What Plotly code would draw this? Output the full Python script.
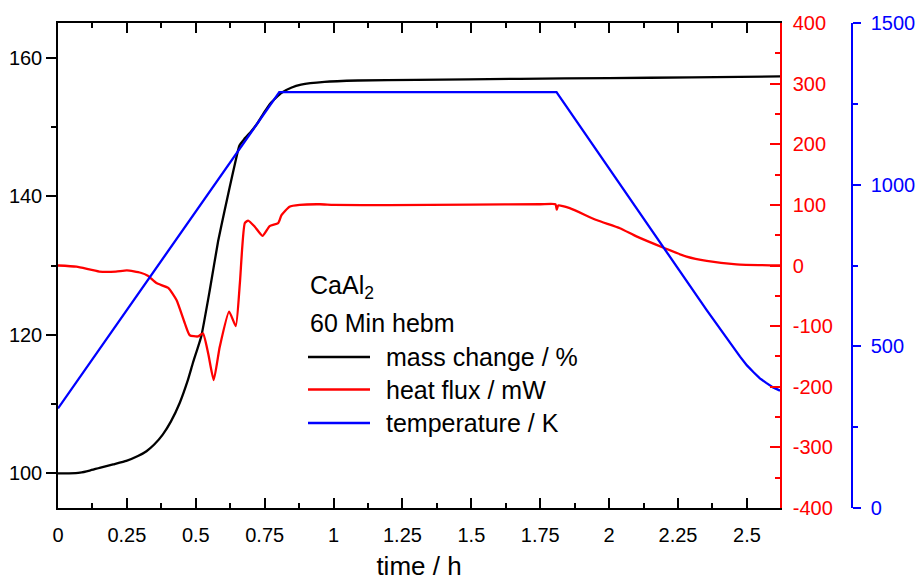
import plotly.graph_objects as go

# ---------------- data ----------------
mass_t = [0, 0.04, 0.08, 0.115, 0.151, 0.2, 0.248, 0.29, 0.321, 0.35, 0.38, 0.41, 0.442,
          0.47, 0.49, 0.52, 0.551, 0.581, 0.605, 0.623, 0.645, 0.658, 0.675, 0.7, 0.725,
          0.75, 0.773, 0.81, 0.846, 0.882, 0.967, 1.088, 1.3, 1.676, 2.0, 2.3, 2.62]
mass_v = [100, 100, 100.1, 100.4, 100.8, 101.3, 101.8, 102.5, 103.2, 104.2, 105.6, 107.5,
          110.2, 113.3, 116, 119.8, 126.5, 133.5, 138.0, 141.3, 145.2, 147.3, 148.2, 149.3,
          150.6, 152.2, 153.5, 154.9, 155.65, 156.1, 156.5, 156.7, 156.8, 156.95, 157.05,
          157.15, 157.3]

heat_t = [0, 0.067, 0.15, 0.21, 0.25, 0.3, 0.326, 0.357, 0.4, 0.43, 0.46, 0.478,
          0.508, 0.526, 0.545, 0.565, 0.587, 0.621, 0.645, 0.66, 0.678, 0.69,
          0.714, 0.742, 0.768, 0.799, 0.811, 0.84, 0.877, 0.95, 1.0, 1.2, 1.5,
          1.75, 1.805, 1.81, 1.815, 1.857, 1.954, 2.039, 2.099, 2.202, 2.281,
          2.354, 2.462, 2.62]
heat_v = [0, -2, -10, -10, -8, -12, -17, -29, -37, -57, -95, -115,
          -117, -112, -145, -189, -134, -76, -100, -29, 70, 74,
          64, 49, 65, 70, 83, 97, 100, 101, 100, 99.5, 100.5,
          101, 101, 92, 99, 94.5, 75, 61.5, 48, 28.5, 14.7,
          7.6, 2, 0]

temp_t = [0, 0.803, 1.809, 2.281, 2.354, 2.475, 2.5, 2.525, 2.547, 2.57, 2.595, 2.62]
temp_v = [308, 1286, 1286, 705, 612, 468, 441, 419, 401, 387, 373, 363]

x_ticks = [0, 0.25, 0.5, 0.75, 1, 1.25, 1.5, 1.75, 2, 2.25, 2.5]
x_ticklabels = ["0", "0.25", "0.5", "0.75", "1", "1.25", "1.5", "1.75", "2", "2.25", "2.5"]
mass_ticks = [100, 120, 140, 160]
heat_ticks = [-400, -300, -200, -100, 0, 100, 200, 300, 400]
heat_ticklabels = ["-400", "-300", "-200", "-100", "0", "100", "200", "300", "400"]
temp_ticks = [0, 500, 1000, 1500]

legend_title = ["CaAl<sub>2</sub>", "60 Min hebm"]
legend_names = ["mass change / %", "heat flux / mW", "temperature / K"]
colors = ["#000000", "#ff0000", "#0000ff"]

FONT = "Liberation Sans, Arial, sans-serif"

# ---------------- figure ----------------
fig = go.Figure()
fig.add_trace(go.Scatter(x=mass_t, y=mass_v, mode="lines", name=legend_names[0],
                         line=dict(color=colors[0], width=2.3, shape="spline", smoothing=0.4),
                         yaxis="y", showlegend=False))
fig.add_trace(go.Scatter(x=heat_t, y=heat_v, mode="lines", name=legend_names[1],
                         line=dict(color=colors[1], width=2.3, shape="spline", smoothing=0.5),
                         yaxis="y2", showlegend=False))
fig.add_trace(go.Scatter(x=temp_t, y=temp_v, mode="lines", name=legend_names[2],
                         line=dict(color=colors[2], width=2.3),
                         yaxis="y3", showlegend=False))

W, H = 921, 581
ML, MR, MT, MB = 58, 40, 23, 73
PW = W - ML - MR
PH = H - MT - MB
def px(x):
    return (x - ML) / PW
def py(y):
    return (H - MB - y) / PH

x_end = px(780)

fig.update_layout(
    width=W, height=H,
    margin=dict(l=ML, r=MR, t=MT, b=MB, autoexpand=False),
    paper_bgcolor="white", plot_bgcolor="white",
    font=dict(family=FONT, size=20, color="black"),
    showlegend=False,
    xaxis=dict(
        domain=[0, x_end], range=[0, 2.62],
        tickvals=x_ticks, ticktext=x_ticklabels,
        ticks="inside", ticklen=10, tickwidth=1.5, tickcolor="black",
        minor=dict(dtick=0.125, tick0=0, ticks="inside", ticklen=5, tickwidth=1.5, tickcolor="black"),
        showline=True, linecolor="black", linewidth=1.5, mirror="ticks",
        showgrid=False, zeroline=False,
        ticklabelstandoff=8,
        tickfont=dict(size=20, color="black"),
        title=dict(text="time / h", font=dict(size=26, color="black"), standoff=16),
    ),
    yaxis=dict(
        range=[95, 165], tickvals=mass_ticks,
        ticks="outside", ticklen=10, tickwidth=1.5, tickcolor="black",
        minor=dict(tickvals=[110, 130, 150], ticks="outside", ticklen=5, tickwidth=1.5, tickcolor="black"),
        showline=True, linecolor="black", linewidth=1.5,
        showgrid=False, zeroline=False,
        tickfont=dict(size=20, color="black"),
    ),
    yaxis2=dict(
        range=[-400, 400], tickvals=heat_ticks, ticktext=heat_ticklabels,
        overlaying="y", side="right", anchor="x",
        ticks="inside", ticklen=10, tickwidth=1.5, tickcolor="#ff0000",
        minor=dict(dtick=50, tick0=0, ticks="inside", ticklen=5, tickwidth=1.5, tickcolor="#ff0000"),
        showline=True, linecolor="#ff0000", linewidth=1.5,
        showgrid=False, zeroline=False,
        ticklabelstandoff=7,
        tickfont=dict(size=20, color="#ff0000"),
    ),
    yaxis3=dict(
        range=[0, 1500], tickvals=temp_ticks,
        overlaying="y", side="right", anchor="free", position=px(852),
        ticks="outside", ticklen=8, tickwidth=1.5, tickcolor="#0000ff",
        minor=dict(dtick=250, tick0=0, ticks="outside", ticklen=5, tickwidth=1.5, tickcolor="#0000ff"),
        showline=True, linecolor="#0000ff", linewidth=1.5,
        showgrid=False, zeroline=False,
        ticklabelstandoff=6,
        tickfont=dict(size=20, color="#0000ff"),
    ),
)

# ---------------- legend (drawn manually) ----------------
ann = []
ann.append(dict(x=px(308), y=py(287), xref="paper", yref="paper", text=legend_title[0],
                showarrow=False, xanchor="left", yanchor="middle", font=dict(size=25, color="black")))
ann.append(dict(x=px(308), y=py(323), xref="paper", yref="paper", text=legend_title[1],
                showarrow=False, xanchor="left", yanchor="middle", font=dict(size=25, color="black")))
rows = [357, 389.5, 423]
shapes = []
for name, col, yy in zip(legend_names, colors, rows):
    shapes.append(dict(type="line", xref="paper", yref="paper", x0=px(308), x1=px(370),
                       y0=py(yy), y1=py(yy), line=dict(color=col, width=2.3)))
    ann.append(dict(x=px(384), y=py(yy), xref="paper", yref="paper", text=name,
                    showarrow=False, xanchor="left", yanchor="middle",
                    font=dict(size=25, color="black")))
fig.update_layout(annotations=ann, shapes=shapes)

fig.write_html("out.html")
